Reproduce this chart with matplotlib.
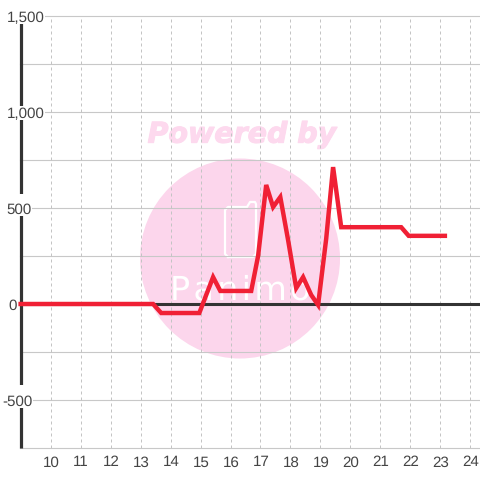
import matplotlib
matplotlib.use("Agg")
import matplotlib.pyplot as plt
import matplotlib.patheffects as pe
from matplotlib.patches import Ellipse, Rectangle
from matplotlib.ticker import MultipleLocator

plt.rcParams['font.family'] = ['Liberation Sans', 'DejaVu Sans']
plt.rcParams['text.hinting'] = 'none'

hours = [8.93, 13.42, 13.69, 14.96, 15.19, 15.42, 15.66, 16.69, 16.92, 17.19, 17.42, 17.66,
         17.92, 18.19, 18.42, 18.69, 18.92, 19.19, 19.42, 19.69, 21.69, 21.94, 23.22]
values = [0, 0, -47, -47, 47, 140, 68, 68, 250, 620, 505, 557,
          333, 83, 140, 47, -5, 340, 713, 400, 400, 355, 355]
x_ticks = list(range(10, 25))
y_ticks = [-500, 0, 500, 1000, 1500]
pink = '#fcd6ec'

fig = plt.figure(figsize=(4.8, 4.8), dpi=100, facecolor='white')
ax = fig.add_axes([20/480, (480-448)/480, 460/480, 432/480])
ax.set_xlim(8.983, 24.317)
ax.set_ylim(-750, 1500)
ax.set_facecolor('white')
for s in ax.spines.values():
    s.set_visible(False)

def px(x, y):
    return (x-20)/460, (448-y)/432

# watermark
tr = ax.transAxes
ax.add_patch(Ellipse(px(240, 258.5), 200/460, 200/432, transform=tr, fc=pink, ec='none', zorder=0))
icon = [px(*p) for p in [(228, 257), (225, 254), (225, 210), (228, 207), (247, 207), (250, 202),
                         (255, 202), (256, 204), (256, 254), (253, 257), (228, 257)]]
ax.plot([p[0] for p in icon], [p[1] for p in icon], transform=tr, color='white', lw=1.6, zorder=0.5,
        solid_joinstyle='round')
ax.text(*px(242, 135), 'Powered by', transform=tr, ha='center', va='center', color='#fdd9ee',
        fontsize=20.5, fontweight='bold', fontstyle='italic', family='DejaVu Sans', zorder=0.5,
        path_effects=[pe.withStroke(linewidth=0.8, foreground='#fdd9ee')])
ax.text(*px(240, 290), 'P\u200aa\u200an\u200ai\u200am\u200ao', transform=tr, ha='center', va='center', color='white',
        fontsize=24, family='DejaVu Sans', zorder=0.5)

# grid
ax.yaxis.set_major_locator(MultipleLocator(250))
ax.grid(axis='y', color='#c8c8c8', lw=0.8, zorder=1)
for gl in ax.get_ygridlines():
    gl.set_clip_on(False)
for t in x_ticks:
    ax.axvline(t, color='#c4c4c4', lw=0.72, ls=(0, (3, 3)), zorder=1)
ax.set_axisbelow(True)

ax.set_xticks(x_ticks)
ax.tick_params(length=0, labelbottom=False, labelleft=False)

# axes lines
ax.plot([0, 1], [0, 0], transform=ax.get_yaxis_transform(), color='#333333', lw=2.2, zorder=2, solid_capstyle='butt')
ax.plot([0.5/460, 0.5/460], [-750, 1500], transform=ax.get_yaxis_transform(), color='#333333', lw=2.3, zorder=2,
        solid_capstyle='butt', clip_on=False)

ax.plot(hours, values, color='#f02035', lw=3.2, zorder=3, solid_joinstyle='miter', solid_capstyle='butt', clip_on=False)

# labels: left edge in pixels, and the white box hiding axis lines behind them
label_left = {-500: 2, 0: 8, 500: 6, 1000: 7, 1500: 7}
label_box = {-500: (385, 408, 33), 500: (194, 216, 32), 1000: (106, 120, 45), 1500: (0, 24, 45)}
for v in y_ticks:
    if v in label_box:
        top, bot, right = label_box[v]
        ax.add_patch(Rectangle(px(0, bot), right/460, (bot-top)/432, transform=tr, fc='white', ec='none',
                               zorder=3.5, clip_on=False))
    ax.text(*px(label_left[v], 304 - v*96/500 + 0.5), f'{v:,}', transform=tr, ha='left', va='center_baseline',
            fontsize=10.9, color='#444444', zorder=4, clip_on=False)
for t in x_ticks:
    x0, _ = ax.transData.transform((t, 0))
    ax.text(x0 + 0.5, 480 - 461, str(t), transform=None, ha='center', va='center_baseline', fontsize=10.9,
            color='#444444', zorder=4, clip_on=False)

fig.savefig('out.png', dpi=100, facecolor='white')
